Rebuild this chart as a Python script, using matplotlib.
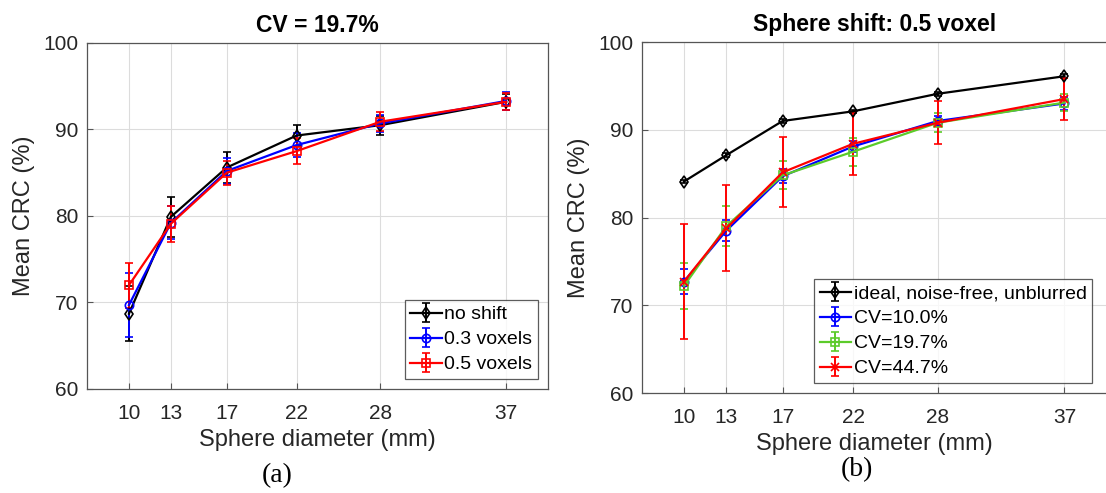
import matplotlib
matplotlib.use('Agg')
import matplotlib.pyplot as plt

plt.rcParams['font.family'] = ['Liberation Sans', 'DejaVu Sans']

# --- data ---
diam = [10, 13, 17, 22, 28, 37]

# (a) CV = 19.7%, different sphere shifts
no_shift = [68.7, 79.9, 85.6, 89.3, 90.5, 93.2]
no_shift_err = [3.2, 2.3, 1.8, 1.2, 1.1, 0.9]
shift03 = [69.7, 79.2, 85.2, 88.2, 90.7, 93.3]
shift03_err = [3.7, 1.9, 1.5, 1.4, 1.0, 1.0]
shift05 = [72.0, 79.1, 85.0, 87.5, 90.9, 93.2]
shift05_err = [2.6, 2.1, 1.4, 1.5, 1.1, 1.0]

# (b) sphere shift 0.5 voxel, different noise levels
ideal = [84.1, 87.1, 91.0, 92.1, 94.1, 96.1]
ideal_err = [0.2, 0.2, 0.2, 0.2, 0.2, 0.2]
cv10 = [72.7, 78.5, 84.7, 88.1, 91.0, 93.0]
cv10_err = [1.4, 1.2, 0.8, 0.6, 0.6, 0.7]
cv197 = [72.2, 79.0, 84.8, 87.5, 90.8, 93.1]
cv197_err = [2.6, 2.3, 1.6, 1.6, 1.1, 1.0]
cv447 = [72.7, 78.75, 85.15, 88.4, 90.8, 93.5]
cv447_err = [6.6, 4.9, 4.0, 3.6, 2.45, 2.4]

GREEN = '#5CCB2A'
TXT = '#262626'


def style_axes(ax, title):
    ax.set_xlim(7, 40)
    ax.set_ylim(60, 100)
    ax.set_xticks(diam)
    ax.set_yticks([60, 70, 80, 90, 100])
    ax.grid(True, color='#dcdcdc', linewidth=0.8)
    ax.set_axisbelow(True)
    ax.tick_params(direction='in', length=4, width=0.8, colors='#555555',
                   labelcolor=TXT, labelsize=15)
    ax.tick_params(axis='x', pad=11)
    ax.tick_params(axis='y', pad=6)
    for s in ax.spines.values():
        s.set_color('#555555')
        s.set_linewidth(0.9)
    ax.set_xlabel('Sphere diameter (mm)', fontsize=17, color=TXT, labelpad=4)
    ax.set_ylabel('Mean CRC (%)', fontsize=17, color=TXT, labelpad=6)
    ax.set_title(title, fontsize=16.5, fontweight='bold', pad=8)


def eb(ax, y, e, color, marker, label):
    ax.errorbar(diam, y, yerr=e, color=color, marker=marker, markersize=6,
                markerfacecolor='none', markeredgewidth=1.2, linewidth=1.6,
                elinewidth=1.4, capsize=3, capthick=1.4, label=label)


fig = plt.figure(figsize=(11.06, 4.93), dpi=100)

ax1 = fig.add_axes([0.0787, 0.211, 0.4168, 0.7018])
eb(ax1, no_shift, no_shift_err, 'black', 'd', 'no shift')
eb(ax1, shift03, shift03_err, 'blue', 'o', '0.3 voxels')
eb(ax1, shift05, shift05_err, 'red', 's', '0.5 voxels')
style_axes(ax1, 'CV = 19.7%')
leg1 = ax1.legend(loc='lower right', fontsize=14, frameon=True, fancybox=False,
                  handlelength=1.6, handletextpad=0.15, borderpad=0.3,
                  labelspacing=0.38, borderaxespad=0.5)
leg1.get_frame().set_edgecolor('#333333')
leg1.get_frame().set_linewidth(0.9)

ax2 = fig.add_axes([0.5802, 0.2028, 0.4205, 0.712])
eb(ax2, ideal, ideal_err, 'black', 'd', 'ideal, noise-free, unblurred')
eb(ax2, cv10, cv10_err, 'blue', 'o', 'CV=10.0%')
eb(ax2, cv197, cv197_err, GREEN, 's', 'CV=19.7%')
eb(ax2, cv447, cv447_err, 'red', 'x', 'CV=44.7%')
style_axes(ax2, 'Sphere shift: 0.5 voxel')
ax2.spines['right'].set_visible(False)
leg2 = ax2.legend(loc='lower right', fontsize=14, frameon=True, fancybox=False,
                  handlelength=1.6, handletextpad=0.15, borderpad=0.3,
                  labelspacing=0.38, borderaxespad=0.5,
                  bbox_to_anchor=(0.99, 0.0))
leg2.get_frame().set_edgecolor('#333333')
leg2.get_frame().set_linewidth(0.9)

fig.text(276.7 / 1106, 1 - 476 / 493, '(a)', family='Liberation Serif',
         fontsize=20, ha='center', va='center')
fig.text(856.7 / 1106, 1 - 470 / 493, '(b)', family='Liberation Serif',
         fontsize=20, ha='center', va='center')

fig.savefig('out.png', dpi=100)
